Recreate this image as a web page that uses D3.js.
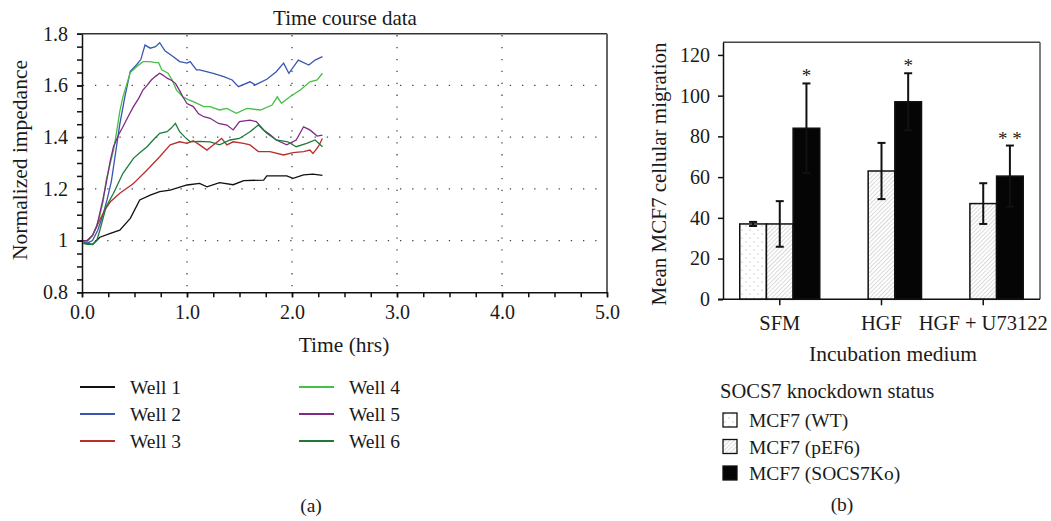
<!DOCTYPE html>
<html>
<head>
<meta charset="utf-8">
<script src="https://cdn.jsdelivr.net/npm/d3@7"></script>
<style>
  body { margin: 0; background: #fff; }
  text { font-family: "Liberation Serif", "DejaVu Serif", serif; fill: #1a1a1a; }
</style>
</head>
<body>
<div id="chart"></div>
<script>
// ---- panel (a): time course, [hrs, normalized impedance] ----
var well1 = [[0,1.0],[0.05,0.988],[0.1,0.985],[0.17,1.013],[0.27,1.028],[0.36,1.04],[0.46,1.086],[0.55,1.157],[0.65,1.176],[0.74,1.189],[0.84,1.195],[1.0,1.215],[1.12,1.221],[1.19,1.208],[1.31,1.224],[1.44,1.216],[1.54,1.232],[1.73,1.234],[1.76,1.25],[1.95,1.25],[2.01,1.241],[2.11,1.254],[2.2,1.257],[2.29,1.252]];
var well2 = [[0,1.0],[0.05,0.99],[0.1,1.0],[0.15,1.04],[0.2,1.1],[0.24,1.16],[0.28,1.23],[0.32,1.34],[0.36,1.45],[0.41,1.56],[0.46,1.655],[0.52,1.68],[0.56,1.70],[0.6,1.756],[0.65,1.744],[0.7,1.75],[0.74,1.765],[0.79,1.734],[0.87,1.711],[0.93,1.692],[1.0,1.686],[1.03,1.692],[1.09,1.66],[1.12,1.66],[1.25,1.647],[1.35,1.634],[1.43,1.621],[1.49,1.595],[1.6,1.614],[1.65,1.602],[1.76,1.624],[1.85,1.653],[1.92,1.686],[1.97,1.647],[2.06,1.698],[2.16,1.679],[2.22,1.698],[2.29,1.711]];
var well3 = [[0,1.0],[0.05,1.0],[0.1,1.02],[0.17,1.08],[0.22,1.12],[0.27,1.15],[0.36,1.183],[0.49,1.221],[0.62,1.273],[0.74,1.324],[0.84,1.37],[0.93,1.382],[1.0,1.376],[1.06,1.386],[1.12,1.37],[1.19,1.35],[1.25,1.37],[1.33,1.395],[1.38,1.37],[1.44,1.382],[1.54,1.376],[1.6,1.37],[1.68,1.344],[1.79,1.344],[1.92,1.331],[2.01,1.34],[2.11,1.344],[2.17,1.35],[2.2,1.337],[2.25,1.363],[2.29,1.395]];
var well4 = [[0,1.0],[0.05,0.995],[0.1,1.02],[0.16,1.08],[0.2,1.15],[0.23,1.233],[0.27,1.30],[0.3,1.35],[0.33,1.42],[0.36,1.50],[0.39,1.556],[0.43,1.61],[0.46,1.65],[0.52,1.672],[0.58,1.692],[0.65,1.692],[0.7,1.688],[0.73,1.688],[0.76,1.66],[0.82,1.647],[0.86,1.62],[0.9,1.582],[0.96,1.556],[1.01,1.545],[1.06,1.537],[1.16,1.518],[1.22,1.518],[1.31,1.505],[1.38,1.511],[1.47,1.492],[1.57,1.511],[1.7,1.505],[1.81,1.524],[1.86,1.556],[1.9,1.531],[1.98,1.556],[2.08,1.582],[2.17,1.614],[2.24,1.621],[2.29,1.647]];
var well5 = [[0,1.0],[0.05,1.0],[0.1,1.02],[0.14,1.054],[0.2,1.16],[0.23,1.221],[0.27,1.31],[0.3,1.363],[0.35,1.41],[0.39,1.44],[0.44,1.48],[0.49,1.518],[0.54,1.55],[0.58,1.582],[0.62,1.60],[0.66,1.621],[0.7,1.635],[0.74,1.647],[0.77,1.64],[0.81,1.628],[0.85,1.62],[0.89,1.608],[0.93,1.58],[0.96,1.556],[1.0,1.53],[1.06,1.518],[1.11,1.49],[1.16,1.479],[1.22,1.473],[1.3,1.453],[1.38,1.447],[1.44,1.428],[1.5,1.46],[1.6,1.466],[1.66,1.46],[1.73,1.428],[1.79,1.41],[1.85,1.389],[1.95,1.37],[2.04,1.389],[2.11,1.44],[2.17,1.428],[2.24,1.404],[2.29,1.408]];
var well6 = [[0,0.99],[0.05,0.985],[0.1,0.985],[0.14,1.0],[0.17,1.04],[0.23,1.131],[0.3,1.183],[0.39,1.26],[0.49,1.318],[0.55,1.34],[0.62,1.363],[0.68,1.39],[0.74,1.415],[0.81,1.421],[0.85,1.435],[0.89,1.453],[0.93,1.421],[0.98,1.40],[1.03,1.382],[1.12,1.384],[1.22,1.382],[1.31,1.37],[1.41,1.389],[1.5,1.395],[1.6,1.421],[1.68,1.447],[1.76,1.415],[1.85,1.389],[1.96,1.382],[2.04,1.363],[2.14,1.376],[2.22,1.389],[2.29,1.363]];
var wellNames = ["Well 1", "Well 2", "Well 3", "Well 4", "Well 5", "Well 6"];
var wellColors = ["#111111", "#3a56b0", "#b8302e", "#45bf45", "#7f2a85", "#1f7a3a"];
var xTicksA = [0, 1, 2, 3, 4, 5];
var yTicksA = [0.8, 1.0, 1.2, 1.4, 1.6, 1.8];

// ---- panel (b): migration ----
var groups = ["SFM", "HGF", "HGF + U73122"];
var statusNames = ["MCF7 (WT)", "MCF7 (pEF6)", "MCF7 (SOCS7Ko)"];
var wtMean = [37, null, null];
var wtErr = [1, null, null];
var pefMean = [37, 63, 47];
var pefErr = [11.2, 13.8, 10];
var koMean = [84, 97, 60.5];
var koErr = [22, 14, 15];
var stars = ["*", "*", "* *"];
var yTicksB = [0, 20, 40, 60, 80, 100, 120];

var W = 1051, H = 521;
var svg = d3.select("#chart").append("svg").attr("width", W).attr("height", H);

var defs = svg.append("defs");
var dots = defs.append("pattern").attr("id", "dots").attr("patternUnits", "userSpaceOnUse")
    .attr("width", 8).attr("height", 8);
dots.append("rect").attr("width", 8).attr("height", 8).attr("fill", "#fff");
dots.append("circle").attr("cx", 2).attr("cy", 2).attr("r", 0.6).attr("fill", "#999");
dots.append("circle").attr("cx", 6).attr("cy", 6).attr("r", 0.6).attr("fill", "#999");
var hatch = defs.append("pattern").attr("id", "hatch").attr("patternUnits", "userSpaceOnUse")
    .attr("width", 3).attr("height", 3).attr("patternTransform", "rotate(45)");
hatch.append("rect").attr("width", 3).attr("height", 3).attr("fill", "#fff");
hatch.append("line").attr("x1", 0).attr("y1", 0).attr("x2", 0).attr("y2", 3)
    .attr("stroke", "#b5b5b5").attr("stroke-width", 1);
var fills = ["url(#dots)", "url(#hatch)", "#050505"];

// ================= panel (a) =================
var x = d3.scaleLinear().domain([0, 5]).range([82, 607]);
var y = d3.scaleLinear().domain([0.8, 1.8]).range([292.3, 33.7]);

var ga = svg.append("g");

// dotted grid
ga.selectAll(".hg").data([1.0, 1.2, 1.4, 1.6]).enter().append("line")
    .attr("x1", x(0) + 1).attr("x2", x(5)).attr("y1", d => y(d)).attr("y2", d => y(d))
    .attr("stroke", "#444").attr("stroke-width", 1.3).attr("stroke-dasharray", "1.3,10.9")
    .attr("stroke-dashoffset", -12);
ga.selectAll(".vg").data([1, 2, 3, 4]).enter().append("line")
    .attr("x1", d => x(d)).attr("x2", d => x(d)).attr("y1", y(0.8)).attr("y2", y(1.8))
    .attr("stroke", "#444").attr("stroke-width", 1.3).attr("stroke-dasharray", "1.3,10.6")
    .attr("stroke-dashoffset", -6);

// frame top / right
ga.append("line").attr("x1", x(0)).attr("x2", x(5)).attr("y1", y(1.8)).attr("y2", y(1.8))
    .attr("stroke", "#333").attr("stroke-width", 1.5);
ga.append("line").attr("x1", x(5)).attr("x2", x(5)).attr("y1", y(1.8)).attr("y2", y(0.8))
    .attr("stroke", "#666").attr("stroke-width", 2);

// lines
var line = d3.line().x(d => x(d[0])).y(d => y(d[1]));
var wells = [well1, well2, well3, well4, well5, well6];
ga.selectAll(".well").data(wells).enter().append("path")
    .attr("d", line).attr("fill", "none")
    .attr("stroke", (d, i) => wellColors[i]).attr("stroke-width", 1.3);

// axes
var yMinor = d3.range(0.8, 1.8001, 0.05);
var ax = ga.append("g").attr("transform", "translate(" + x(0) + ",0)")
    .call(d3.axisLeft(y).tickValues(yMinor).tickSize(5).tickSizeOuter(0).tickFormat(""));
ax.selectAll("path,line").attr("stroke", "#111").attr("stroke-width", 1.5);
var ayl = ga.append("g").attr("transform", "translate(" + x(0) + ",0)")
    .call(d3.axisLeft(y).tickValues(yTicksA).tickSize(5).tickPadding(9)
        .tickFormat(d => Math.abs(d - 1) < 1e-9 ? "1" : d.toFixed(1)));
ayl.select(".domain").remove();
ayl.selectAll("line").attr("stroke", "#111").attr("stroke-width", 1.5);
ayl.selectAll("text").style("font-size", "20px").attr("fill", "#1a1a1a");

var xMinor = d3.range(0, 5.0001, 0.25);
var bx = ga.append("g").attr("transform", "translate(0," + y(0.8) + ")")
    .call(d3.axisBottom(x).tickValues(xMinor).tickSize(5).tickSizeOuter(0).tickFormat(""));
bx.selectAll("path,line").attr("stroke", "#111").attr("stroke-width", 1.5);
var bxl = ga.append("g").attr("transform", "translate(0," + y(0.8) + ")")
    .call(d3.axisBottom(x).tickValues(xTicksA).tickSize(5).tickPadding(8).tickFormat(d3.format(".1f")));
bxl.select(".domain").remove();
bxl.selectAll("line").attr("stroke", "#111").attr("stroke-width", 1.5);
bxl.selectAll("text").style("font-size", "20px").attr("fill", "#1a1a1a");

ga.append("text").attr("x", 345).attr("y", 25).attr("text-anchor", "middle")
    .style("font-size", "21px").text("Time course data");
ga.append("text").attr("x", 344).attr("y", 352).attr("text-anchor", "middle")
    .style("font-size", "21.5px").text("Time (hrs)");
ga.append("text").attr("transform", "translate(27,160) rotate(-90)").attr("text-anchor", "middle")
    .style("font-size", "21.5px").text("Normalized impedance");

// legend (a)
var lg = ga.selectAll(".lga").data(wellNames).enter().append("g")
    .attr("transform", (d, i) => "translate(" + (i < 3 ? 80 : 299) + "," + (387 + (i % 3) * 27) + ")");
lg.append("line").attr("x1", 0).attr("x2", 35).attr("y1", 0).attr("y2", 0)
    .attr("stroke", (d, i) => wellColors[i]).attr("stroke-width", 2);
lg.append("text").attr("x", 50).attr("y", 6.5).style("font-size", "19.5px").text(d => d);

ga.append("text").attr("x", 311).attr("y", 512).attr("text-anchor", "middle")
    .style("font-size", "19.5px").text("(a)");

// ================= panel (b) =================
var gb = svg.append("g");
var yb = d3.scaleLinear().domain([0, 126.2]).range([299.3, 42.3]);
var x0 = d3.scaleBand().domain(groups).range([723, 1040]).paddingInner(0).paddingOuter(0.058);
var x1 = d3.scaleBand().domain(statusNames).range([0, x0.bandwidth()]).paddingInner(0).paddingOuter(0.407);

// frame
gb.append("line").attr("x1", 723).attr("x2", 1040).attr("y1", yb(126.2)).attr("y2", yb(126.2))
    .attr("stroke", "#444").attr("stroke-width", 1.5);
gb.append("line").attr("x1", 1040).attr("x2", 1040).attr("y1", yb(126.2)).attr("y2", yb(0))
    .attr("stroke", "#555").attr("stroke-width", 1.5);

var bars = [];
groups.forEach(function (g, gi) {
    [[wtMean, wtErr], [pefMean, pefErr], [koMean, koErr]].forEach(function (s, si) {
        if (s[0][gi] != null) bars.push({ g: g, gi: gi, si: si, v: s[0][gi], e: s[1][gi] });
    });
});

gb.selectAll(".bar").data(bars).enter().append("rect")
    .attr("x", d => x0(d.g) + x1(statusNames[d.si]))
    .attr("width", x1.bandwidth())
    .attr("y", d => yb(d.v)).attr("height", d => yb(0) - yb(d.v))
    .attr("fill", d => fills[d.si]).attr("stroke", "#111").attr("stroke-width", 1.5);

var eb = gb.selectAll(".err").data(bars).enter().append("g")
    .attr("transform", d => "translate(" + (x0(d.g) + x1(statusNames[d.si]) + x1.bandwidth() / 2) + ",0)");
eb.append("line").attr("y1", d => yb(d.v - d.e)).attr("y2", d => yb(d.v + d.e))
    .attr("stroke", "#111").attr("stroke-width", 2);
eb.append("line").attr("x1", -4).attr("x2", 4).attr("y1", d => yb(d.v + d.e)).attr("y2", d => yb(d.v + d.e))
    .attr("stroke", "#111").attr("stroke-width", 2);
eb.append("line").attr("x1", -4).attr("x2", 4).attr("y1", d => yb(d.v - d.e)).attr("y2", d => yb(d.v - d.e))
    .attr("stroke", "#111").attr("stroke-width", 2);

gb.selectAll(".star").data(groups).enter().append("text")
    .attr("x", (d, i) => x0(d) + x1(statusNames[2]) + x1.bandwidth() / 2)
    .attr("y", (d, i) => yb(koMean[i] + koErr[i]) - 1)
    .attr("text-anchor", "middle").style("font-size", "19px").text((d, i) => stars[i]);

// axes (b)
var ayb = gb.append("g").attr("transform", "translate(723,0)")
    .call(d3.axisLeft(yb).tickValues(yTicksB).tickSize(5).tickSizeOuter(0).tickPadding(8));
ayb.selectAll("path,line").attr("stroke", "#111").attr("stroke-width", 1.5);
ayb.selectAll("text").style("font-size", "20px").attr("fill", "#1a1a1a");
gb.append("line").attr("x1", 718).attr("x2", 1040).attr("y1", yb(0)).attr("y2", yb(0))
    .attr("stroke", "#111").attr("stroke-width", 1.5);
var axb = gb.append("g").attr("transform", "translate(0," + yb(0) + ")")
    .call(d3.axisBottom(x0).tickSize(6).tickSizeOuter(0).tickPadding(10));
axb.select(".domain").remove();
axb.selectAll("line").attr("stroke", "#111").attr("stroke-width", 1.5);
axb.selectAll("text").style("font-size", "20.5px").attr("fill", "#1a1a1a");

gb.append("text").attr("x", 893).attr("y", 361).attr("text-anchor", "middle")
    .style("font-size", "21.5px").text("Incubation medium");
gb.append("text").attr("transform", "translate(666,174) rotate(-90)").attr("text-anchor", "middle")
    .style("font-size", "21px").text("Mean MCF7 cellular migration");

// legend (b)
gb.append("text").attr("x", 720).attr("y", 398).style("font-size", "20.5px").text("SOCS7 knockdown status");
var lb = gb.selectAll(".lgb").data(statusNames).enter().append("g")
    .attr("transform", (d, i) => "translate(723," + (420 + i * 26.5) + ")");
lb.append("rect").attr("x", 0).attr("y", -7).attr("width", 14).attr("height", 14)
    .attr("fill", (d, i) => fills[i]).attr("stroke", "#111").attr("stroke-width", 1.3);
lb.append("text").attr("x", 26).attr("y", 7).style("font-size", "19.5px").text(d => d);

gb.append("text").attr("x", 842).attr("y", 511).attr("text-anchor", "middle")
    .style("font-size", "19.5px").text("(b)");
</script>
</body>
</html>
